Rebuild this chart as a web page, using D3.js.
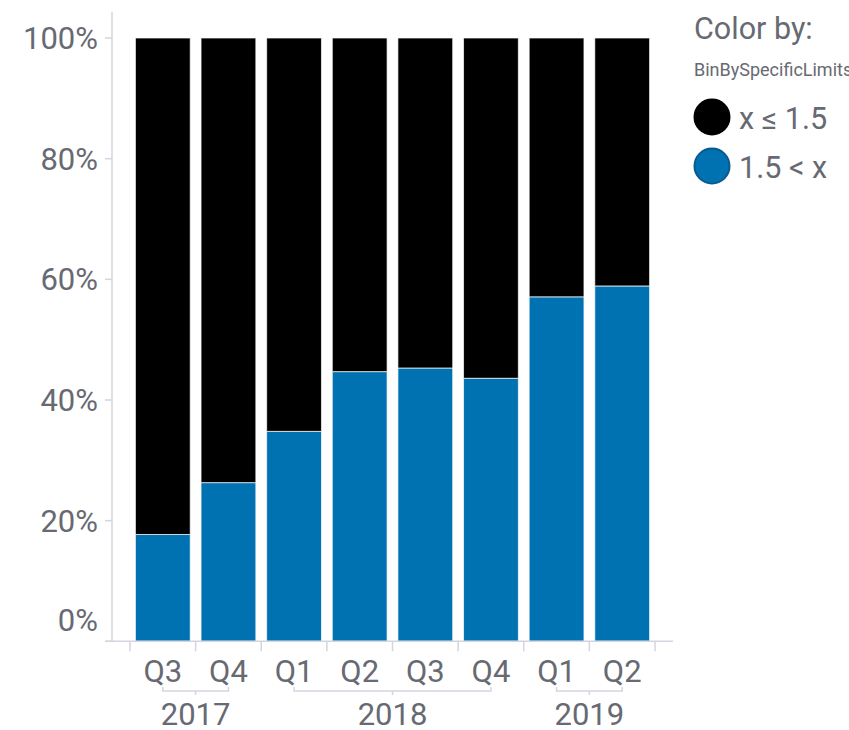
<!DOCTYPE html>
<html>
<head>
<meta charset="utf-8">
<script src="https://cdn.jsdelivr.net/npm/d3@7"></script>
<style>
  html, body { margin: 0; padding: 0; background: #fff; }
  svg { display: block; font-family: Roboto, "Noto Sans", sans-serif; }
</style>
</head>
<body>
<svg id="chart" width="849" height="730"></svg>
<script>
// Quarterly share of values in each bin (percent of total)
const years = ["2017", "2017", "2018", "2018", "2018", "2018", "2019", "2019"];
const quarters = ["Q3", "Q4", "Q1", "Q2", "Q3", "Q4", "Q1", "Q2"];
const upperBin = [17.7, 26.3, 34.8, 44.7, 45.3, 43.6, 57.1, 58.9];   // 1.5 < x
const lowerBin = [82.3, 73.7, 65.2, 55.3, 54.7, 56.4, 42.9, 41.1];   // x ≤ 1.5
const binLabels = ["x ≤ 1.5", "1.5 < x"];
const binColors = ["#000000", "#0071b1"];
const yTicks = [0, 20, 40, 60, 80, 100];

const textColor = "#676a72";
const axisColor = "#d3d5df";

const svg = d3.select("#chart");

const keys = years.map((y, i) => y + " " + quarters[i]);
const rows = keys.map((k, i) => ({ key: k, up: upperBin[i], low: lowerBin[i] }));

const x = d3.scaleBand()
  .domain(keys)
  .range([130, 655])
  .paddingInner(0.165)
  .paddingOuter(0.0825);

const y = d3.scaleLinear().domain([0, 100]).range([641.3, 38]);

// Stack: blue bin at the bottom, black bin on top
const stack = d3.stack().keys(["up", "low"]);
const series = stack(rows);
const colorOf = { up: binColors[1], low: binColors[0] };

svg.append("g")
  .selectAll("g")
  .data(series)
  .join("g")
  .attr("fill", d => colorOf[d.key])
  .selectAll("rect")
  .data(d => d)
  .join("rect")
  .attr("x", d => x(d.data.key))
  .attr("width", x.bandwidth())
  .attr("y", d => y(d[1]))
  .attr("height", d => y(d[0]) - y(d[1]))
  .attr("stroke", "#ffffff")
  .attr("stroke-opacity", 0.7)
  .attr("stroke-width", 1);

// Y axis
const yAxis = svg.append("g");
yAxis.append("line")
  .attr("x1", 112).attr("x2", 112)
  .attr("y1", 12).attr("y2", y(0))
  .attr("stroke", axisColor).attr("stroke-width", 1.5);
yAxis.selectAll("line.tick")
  .data(yTicks)
  .join("line")
  .attr("class", "tick")
  .attr("x1", 105).attr("x2", 112)
  .attr("y1", d => y(d)).attr("y2", d => y(d))
  .attr("stroke", axisColor).attr("stroke-width", 1.5);
// the lowest label sits above its tick so it stays clear of the x axis
yAxis.selectAll("text")
  .data(yTicks)
  .join("text")
  .attr("x", 98)
  .attr("y", d => y(d) - (d === 0 ? 21 : 0))
  .attr("dy", "0.36em")
  .attr("text-anchor", "end")
  .attr("fill", textColor)
  .attr("font-size", 31)
  .text(d => d + "%");

// X axis
const xAxis = svg.append("g");
xAxis.append("line")
  .attr("x1", 105).attr("x2", 673)
  .attr("y1", y(0)).attr("y2", y(0))
  .attr("stroke", axisColor).attr("stroke-width", 1.5);

const step = x.step();
const bounds = keys.map(k => x(k) - x.paddingOuter() * step).concat([655]);
xAxis.selectAll("line.tick")
  .data(bounds)
  .join("line")
  .attr("class", "tick")
  .attr("x1", d => d).attr("x2", d => d)
  .attr("y1", y(0)).attr("y2", y(0) + 10)
  .attr("stroke", axisColor).attr("stroke-width", 1.5);

xAxis.selectAll("text.q")
  .data(rows)
  .join("text")
  .attr("class", "q")
  .attr("x", d => x(d.key) + x.bandwidth() / 2)
  .attr("y", 682)
  .attr("text-anchor", "middle")
  .attr("fill", textColor)
  .attr("font-size", 31)
  .text((d, i) => quarters[i]);

// Year groups with brackets
const yearGroups = d3.groups(keys, k => k.split(" ")[0]).map(([yr, ks]) => {
  const x0 = x(ks[0]) + x.bandwidth() / 2;
  const x1 = x(ks[ks.length - 1]) + x.bandwidth() / 2;
  return { yr, x0, x1, mid: (x0 + x1) / 2 };
});
const bracketY = 691;
const br = xAxis.selectAll("g.year").data(yearGroups).join("g").attr("class", "year");
br.append("path")
  .attr("d", d => `M${d.x0},${bracketY - 4}V${bracketY}H${d.x1}V${bracketY - 4}M${d.mid},${bracketY}V${bracketY + 4}`)
  .attr("fill", "none")
  .attr("stroke", axisColor)
  .attr("stroke-width", 1.5);
br.append("text")
  .attr("x", d => d.mid)
  .attr("y", 725)
  .attr("text-anchor", "middle")
  .attr("fill", textColor)
  .attr("font-size", 31)
  .text(d => d.yr);

// Legend
const legend = svg.append("g");
legend.append("text")
  .attr("x", 694).attr("y", 39)
  .attr("fill", textColor)
  .attr("font-size", 30.5)
  .text("Color by:");
legend.append("text")
  .attr("x", 694).attr("y", 76)
  .attr("fill", textColor)
  .attr("font-size", 18)
  .text("BinBySpecificLimits");

const items = legend.selectAll("g.item")
  .data(binLabels)
  .join("g")
  .attr("class", "item")
  .attr("transform", (d, i) => `translate(712,${117 + i * 49})`);
items.append("circle")
  .attr("r", 17.5)
  .attr("fill", (d, i) => binColors[i])
  .attr("stroke", (d, i) => i === 0 ? "#000000" : "#0a5a92")
  .attr("stroke-width", 2);
items.append("text")
  .attr("x", 27)
  .attr("y", 12)
  .attr("fill", textColor)
  .attr("font-size", 30.5)
  .text(d => d);
</script>
</body>
</html>
